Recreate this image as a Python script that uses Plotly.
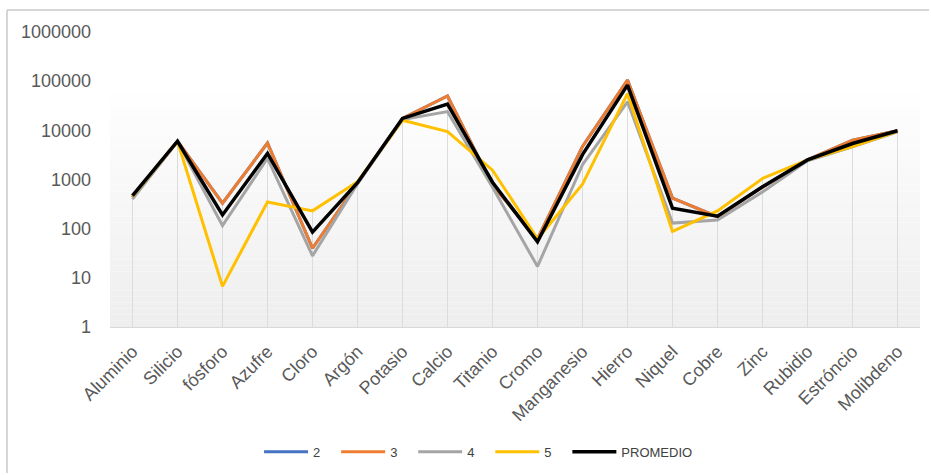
import plotly.graph_objects as go

categories = ["Aluminio", "Silicio", "fósforo", "Azufre", "Cloro", "Argón", "Potasio", "Calcio",
              "Titanio", "Cromo", "Manganesio", "Hierro", "Niquel", "Cobre", "Zinc", "Rubidio",
              "Estróncio", "Molibdeno"]

serie_2 = [430, 6000, 330, 5500, 40, 850, 17500, 50000, 770, 62, 4700, 105000, 420, 175, 700, 2500, 6300, 9800]
serie_3 = [430, 6000, 330, 5500, 40, 850, 17500, 50000, 770, 62, 4700, 105000, 420, 175, 700, 2500, 6300, 9800]
serie_4 = [400, 5900, 115, 2700, 28, 820, 16500, 24000, 700, 17, 2000, 38000, 130, 150, 560, 2400, 4600, 9300]
serie_5 = [450, 6000, 6.7, 350, 230, 900, 16000, 9400, 1550, 62, 800, 56000, 88, 230, 1050, 2500, 4700, 9500]
promedio = [470, 6000, 190, 3400, 85, 860, 17500, 34000, 880, 54, 3200, 83000, 260, 180, 710, 2500, 5400, 9800]

y_ticks = [1, 10, 100, 1000, 10000, 100000, 1000000]
y_tick_labels = ["1", "10", "100", "1000", "10000", "100000", "1000000"]

series = [
    ("2", serie_2, "#4472c4", 3),
    ("3", serie_3, "#ed7d31", 3),
    ("4", serie_4, "#a5a5a5", 3),
    ("5", serie_5, "#ffc000", 3),
    ("PROMEDIO", promedio, "#000000", 3.5),
]

fig = go.Figure()

# drop lines from the highest value of each category down to the axis
drop_x, drop_y = [], []
for i, c in enumerate(categories):
    top = max(s[1][i] for s in series)
    drop_x += [c, c, None]
    drop_y += [1, top, None]
fig.add_trace(go.Scatter(x=drop_x, y=drop_y, mode="lines",
                         line=dict(color="#dcdcdc", width=1),
                         showlegend=False, hoverinfo="skip"))

pad = "\u00a0\u00a0\u00a0"
for name, vals, color, w in series:
    fig.add_trace(go.Scatter(x=categories, y=vals, name=name + (pad if name != "PROMEDIO" else ""),
                             mode="lines", line=dict(color=color, width=w)))

# subtle vertical gradient in the lower part of the plot area
shapes = []
n = 40
top_frac = 5 / 6
for k in range(n):
    y0 = top_frac * k / n
    y1 = top_frac * (k + 1) / n
    t = k / (n - 1)
    g = int(round(238 + (255 - 238) * t))
    shapes.append(dict(type="rect", xref="paper", yref="paper", x0=0, x1=1, y0=y0, y1=y1,
                       fillcolor=f"rgb({g},{g},{g})", line=dict(width=0), layer="below"))
# chart outer border (left and top edges only; the rest is cut off in the reference)
bx0 = (7 - 110) / 810
bx1 = (929 - 110) / 810
by_top = (327 - 10) / 295
by_bot = (327 - 473) / 295
shapes.append(dict(type="line", xref="paper", yref="paper", x0=bx0, x1=bx0, y0=by_bot, y1=by_top,
                   line=dict(color="#c8c8c8", width=1.5)))
shapes.append(dict(type="line", xref="paper", yref="paper", x0=bx0, x1=bx1, y0=by_top, y1=by_top,
                   line=dict(color="#c8c8c8", width=1.5)))

fig.update_layout(
    width=931, height=475,
    margin=dict(l=110, r=11, t=32, b=148, autoexpand=False),
    paper_bgcolor="white", plot_bgcolor="white",
    shapes=shapes,
    showlegend=True,
    legend=dict(orientation="h", x=0.455, xanchor="center", y=-0.372, yanchor="top",
                font=dict(family="Liberation Sans, Arial", size=13, color="#404040"),
                itemwidth=44, traceorder="normal"),
    font=dict(family="Liberation Sans, Arial", color="#595959"),
)

fig.update_xaxes(type="category", range=[-0.5, 17.5], tickangle=-45,
                 tickfont=dict(size=18, color="#595959"),
                 showgrid=False, showline=True, linecolor="#d9d9d9", linewidth=1,
                 ticks="", zeroline=False, automargin=False, ticklabelstandoff=6)
fig.update_yaxes(type="log", range=[0, 6], tickvals=y_ticks, ticktext=y_tick_labels,
                 tickfont=dict(size=18, color="#595959"),
                 showgrid=False, showline=False, zeroline=False, ticks="", ticklabelstandoff=18,
                 automargin=False)

fig.write_html("out.html")
